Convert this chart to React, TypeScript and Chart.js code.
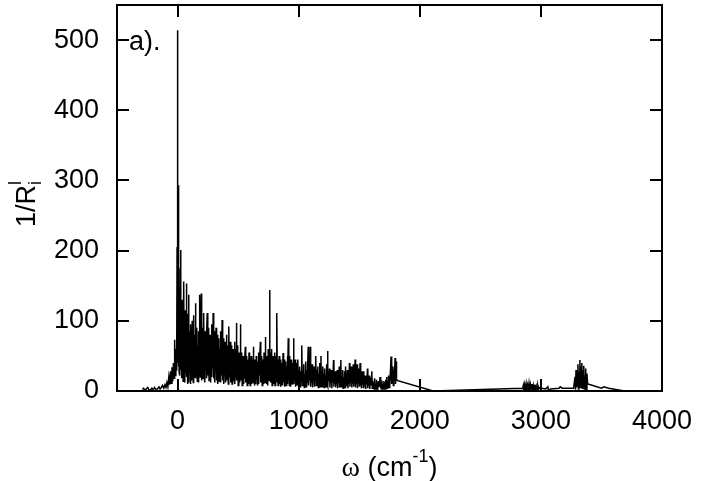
import React, { useEffect, useRef } from "react";
import { Chart, registerables } from "chart.js";

Chart.register(...registerables);

type P = [number, number];

const xTicks = [0, 1000, 2000, 3000, 4000];
const yTicks = [0, 100, 200, 300, 400, 500];
const xMin = -500;
const xMax = 4000;
const yMin = 0;
const yMax = 550;
const panelLabel = "a).";
const xTitleParts = ["ω", " (cm", "-1", ")"];
const yTitleParts = ["1/R", "i", "l"];

const negTail: P[] = [
  [-290, 2], [-280, 4], [-270, 1], [-258, 3], [-246, 5], [-236, 2], [-224, 1], [-212, 4], [-200, 2],
  [-190, 5], [-178, 2], [-166, 3], [-154, 6], [-144, 3], [-134, 5], [-124, 8], [-114, 4], [-104, 9],
  [-96, 5], [-88, 12], [-80, 6], [-72, 20], [-65, 9], [-58, 28], [-52, 11], [-46, 34], [-40, 14],
  [-34, 40], [-28, 18], [-24, 73], [-19, 22], [-14, 60], [-10, 30], [-7, 45],
];

const coreBand: P[] = [
  [-4, 205], [-2, 40], [1, 514], [3, 60], [5, 293], [7, 35], [10, 150], [13, 28], [16, 120], [19, 22],
  [22, 175], [25, 201], [28, 30], [31, 95], [34, 18], [37, 130], [40, 25], [43, 105], [46, 14], [49, 140],
  [52, 156], [55, 30], [58, 80], [61, 12], [64, 115], [67, 25], [70, 95], [73, 153], [76, 20], [79, 70],
  [82, 10], [85, 110], [88, 28], [91, 137], [94, 12], [97, 85], [100, 30], [103, 60], [106, 10], [109, 95],
  [112, 22], [115, 70], [118, 15], [121, 100], [124, 32], [127, 65], [130, 12], [133, 108], [136, 20],
  [139, 80], [142, 28], [145, 60], [148, 125], [151, 18],
];

const bandB: P[] = [
  [154, 75], [157, 25], [160, 90], [163, 14], [166, 65], [169, 30], [172, 85], [175, 12], [178, 70],
  [181, 35], [184, 137], [187, 20], [190, 80], [193, 28], [196, 139], [199, 15], [202, 70], [205, 32],
  [208, 90], [211, 18], [214, 60], [217, 111], [220, 25], [223, 75], [226, 12], [229, 85], [232, 30],
  [235, 65], [238, 18], [241, 80], [245, 111], [248, 22], [251, 70], [254, 35], [257, 90], [260, 15],
  [263, 65], [266, 28], [269, 80], [272, 12], [275, 70], [278, 30], [281, 95], [284, 20], [287, 60],
  [290, 32], [294, 111], [297, 18], [300, 70],
];

const bandC: P[] = [
  [303, 25], [306, 85], [309, 12], [312, 60], [315, 30], [318, 90], [321, 15], [324, 65], [327, 25],
  [330, 80], [333, 10], [336, 55], [339, 28], [342, 75], [345, 14], [348, 60], [351, 30], [354, 85],
  [357, 12], [360, 55], [364, 22], [368, 101], [371, 15], [374, 60], [377, 30], [380, 75], [383, 10],
  [386, 50], [389, 25], [392, 70], [395, 12], [398, 55], [401, 28], [404, 80], [407, 15], [410, 50],
  [413, 22], [416, 65], [419, 10], [423, 92], [426, 20], [429, 55], [432, 30], [435, 70], [438, 12],
  [441, 50], [444, 25], [447, 65], [450, 10], [453, 45], [456, 22], [459, 60], [462, 14], [465, 50],
  [468, 28], [471, 70], [474, 10], [477, 45], [480, 20], [483, 60], [486, 97], [489, 15], [492, 50],
  [495, 25], [498, 65], [501, 8], [504, 45], [507, 20], [510, 55], [513, 12], [516, 40], [519, 95],
  [522, 15],
];

const bandD: P[] = [
  [525, 45], [528, 20], [531, 55], [534, 8], [537, 40], [540, 22], [543, 50], [546, 10], [549, 35],
  [552, 18], [556, 45], [560, 63], [563, 12], [566, 40], [569, 20], [572, 50], [575, 8], [578, 35],
  [581, 18], [584, 45], [587, 10], [590, 55], [593, 22], [596, 38], [599, 8], [602, 42], [605, 18],
  [608, 50], [611, 10], [614, 35], [617, 20], [620, 45], [623, 12], [626, 63], [629, 15], [632, 40],
  [635, 8], [638, 45], [641, 20], [644, 35], [647, 10], [650, 50], [653, 18], [656, 38], [659, 8],
  [662, 42], [665, 20], [668, 55], [671, 10], [674, 38], [677, 22], [680, 48], [684, 70], [687, 12],
  [690, 40], [693, 20], [696, 50], [699, 8], [702, 35], [705, 18], [708, 45], [711, 10], [714, 55],
  [717, 20], [720, 40], [723, 12], [725, 77], [728, 25], [731, 45], [734, 10], [737, 50], [740, 18],
  [743, 35], [746, 8], [749, 60], [752, 22], [755, 45], [758, 15], [760, 144], [763, 20],
];

const bandE: P[] = [
  [766, 55], [769, 12], [772, 40], [775, 25], [778, 60], [781, 8], [784, 45], [787, 20], [790, 50],
  [793, 10], [796, 35], [799, 18], [802, 55], [805, 8], [808, 40], [811, 22], [814, 50], [817, 12],
  [821, 111], [824, 15], [827, 45], [830, 8], [833, 38], [836, 20], [839, 50], [842, 10], [845, 35],
  [848, 18], [851, 45], [854, 6], [857, 30], [860, 15], [863, 40], [866, 8], [871, 54], [874, 12],
  [877, 35], [880, 20], [883, 45], [886, 6], [889, 30], [892, 15], [895, 42], [898, 8], [901, 35],
  [904, 18], [907, 50], [910, 10], [914, 75], [917, 15], [920, 40], [923, 8], [926, 50], [929, 20],
  [932, 35], [935, 6], [938, 45], [941, 15], [944, 30], [947, 10], [950, 40], [954, 22], [958, 75],
  [961, 10], [964, 35], [967, 18], [970, 45], [973, 6], [976, 30], [979, 15], [982, 40], [985, 8],
  [988, 32], [991, 18], [994, 45], [997, 8], [1000, 30],
];

const bandF: P[] = [
  [1004, 12], [1008, 35], [1012, 6], [1016, 28], [1020, 14], [1024, 40], [1027, 65], [1030, 8],
  [1034, 30], [1038, 12], [1042, 38], [1046, 5], [1050, 25], [1054, 15], [1058, 42], [1062, 6],
  [1066, 30], [1070, 12], [1074, 35], [1079, 63], [1082, 8], [1086, 28], [1090, 15], [1096, 63],
  [1099, 6], [1103, 30], [1107, 12], [1111, 38], [1115, 5], [1119, 25], [1123, 14], [1127, 35],
  [1131, 6], [1135, 28], [1139, 15], [1142, 50], [1146, 8], [1150, 30], [1154, 12], [1158, 35],
  [1162, 5], [1166, 25], [1170, 14], [1174, 40], [1178, 6], [1184, 50], [1187, 10], [1191, 28],
  [1195, 6], [1199, 35], [1203, 12], [1207, 25], [1211, 5], [1215, 32], [1219, 15], [1223, 22],
  [1227, 6], [1231, 38], [1235, 12], [1238, 57], [1242, 8], [1246, 28], [1250, 14], [1254, 32],
  [1258, 5], [1262, 22], [1266, 12], [1270, 30], [1274, 4], [1278, 25], [1282, 12], [1288, 44],
  [1291, 6], [1295, 22], [1299, 10],
];

const bandG: P[] = [
  [1303, 28], [1307, 5], [1311, 20], [1315, 10], [1319, 30], [1323, 4], [1327, 22], [1331, 12],
  [1335, 35], [1339, 5], [1343, 25], [1348, 44], [1351, 6], [1355, 22], [1359, 10], [1363, 30],
  [1367, 4], [1371, 20], [1375, 12], [1379, 28], [1383, 5], [1387, 35], [1391, 8], [1395, 22],
  [1399, 12], [1403, 30], [1407, 4], [1411, 25], [1415, 10], [1419, 40], [1423, 6], [1427, 25],
  [1431, 12], [1435, 35], [1439, 5], [1443, 28], [1447, 10], [1451, 38], [1455, 6], [1459, 22],
  [1462, 12], [1466, 45], [1470, 5], [1474, 30], [1478, 10], [1482, 38], [1486, 4], [1490, 25],
  [1494, 12], [1498, 32], [1502, 6], [1507, 40], [1510, 8], [1514, 22], [1518, 5], [1522, 28],
  [1526, 10], [1530, 18], [1535, 28], [1538, 4], [1542, 15], [1546, 8], [1550, 22], [1554, 3],
  [1558, 18], [1562, 10], [1568, 32], [1571, 4], [1575, 15], [1579, 8], [1583, 22], [1587, 3],
  [1591, 14], [1595, 8], [1599, 18], [1604, 28], [1607, 4],
];

const bandH: P[] = [
  [1611, 15], [1615, 6], [1619, 12], [1623, 3], [1627, 18], [1631, 6], [1635, 10], [1639, 3],
  [1643, 16], [1647, 5], [1651, 12], [1655, 3], [1659, 14], [1663, 6], [1667, 10], [1672, 20],
  [1675, 4], [1679, 12], [1683, 3], [1687, 15], [1691, 5], [1695, 10], [1699, 3], [1703, 14],
  [1707, 6], [1711, 12], [1715, 3], [1719, 16], [1723, 6], [1727, 20], [1730, 4], [1734, 14],
  [1738, 8], [1742, 22], [1746, 5], [1750, 18], [1754, 8], [1758, 30], [1763, 49], [1766, 10],
  [1770, 38], [1774, 12], [1778, 35], [1782, 8], [1786, 30], [1790, 15], [1796, 47], [1800, 10],
  [1804, 42], [1808, 18],
];

const gapTail: P[] = [[1812, 15], [2110, 0], [2850, 4]];

const chBand: P[] = [
  [2855, 8], [2860, 1], [2866, 9], [2872, 2], [2878, 10], [2884, 0], [2890, 8], [2896, 2], [2902, 11],
  [2908, 1], [2914, 9], [2920, 3], [2926, 10], [2932, 1], [2938, 8], [2944, 2], [2950, 9], [2956, 3],
  [2962, 7], [2968, 2], [2975, 8], [2982, 3], [2990, 5], [3010, 4], [3040, 3], [3058, 6], [3062, 0],
  [3080, 3], [3150, 4], [3160, 6], [3175, 4], [3270, 4],
];

const ohBand: P[] = [
  [3282, 20], [3286, 2], [3290, 30], [3294, 5], [3298, 25], [3302, 8], [3306, 38], [3310, 3],
  [3314, 28], [3318, 10], [3322, 44], [3326, 5], [3330, 35], [3334, 12], [3338, 40], [3342, 4],
  [3346, 30], [3350, 8], [3354, 36], [3358, 3], [3362, 22], [3366, 6], [3370, 32], [3374, 2],
  [3380, 25], [3386, 10], [3390, 10], [3500, 4], [3520, 6], [3560, 4], [3690, 0],
];

const spectrum: P[] = [
  ...negTail, ...coreBand, ...bandB, ...bandC, ...bandD, ...bandE, ...bandF, ...bandG, ...bandH,
  ...gapTail, ...chBand, ...ohBand,
];

const SANS = '"Liberation Sans", Arial, sans-serif';
const SERIF = '"Liberation Serif", "Times New Roman", serif';
const FONT_PX = 27;

const decor = {
  id: "decor",
  afterDraw(chart: any) {
    const { ctx, chartArea: a, scales } = chart;
    const xs = scales.x;
    const ys = scales.y;
    ctx.save();
    ctx.strokeStyle = "#000";
    ctx.lineWidth = 2;
    ctx.strokeRect(a.left, a.top, a.right - a.left, a.bottom - a.top);
    ctx.beginPath();
    for (const v of xTicks) {
      const p = Math.round(xs.getPixelForValue(v));
      ctx.moveTo(p, a.bottom);
      ctx.lineTo(p, a.bottom - 12);
      ctx.moveTo(p, a.top);
      ctx.lineTo(p, a.top + 12);
    }
    for (const v of yTicks) {
      const p = Math.round(ys.getPixelForValue(v));
      ctx.moveTo(a.left, p);
      ctx.lineTo(a.left + 12, p);
      ctx.moveTo(a.right, p);
      ctx.lineTo(a.right - 12, p);
    }
    ctx.stroke();

    ctx.fillStyle = "#000";
    ctx.textBaseline = "alphabetic";
    ctx.textAlign = "left";
    const big = `${FONT_PX}px ${SANS}`;
    const small = `18px ${SANS}`;
    ctx.font = big;
    ctx.fillText(panelLabel, a.left + 12, 50);

    // x title
    const omegaFont = `28px ${SERIF}`;
    ctx.font = omegaFont;
    const w0 = ctx.measureText(xTitleParts[0]).width;
    ctx.font = big;
    const w1 = ctx.measureText(xTitleParts[1]).width;
    const w3 = ctx.measureText(xTitleParts[3]).width;
    ctx.font = small;
    const w2 = ctx.measureText(xTitleParts[2]).width;
    const total = w0 + w1 + w2 + w3;
    let x = (a.left + a.right) / 2 - total / 2;
    const base = 476;
    ctx.font = omegaFont;
    ctx.fillText(xTitleParts[0], x, base);
    x += w0;
    ctx.font = big;
    ctx.fillText(xTitleParts[1], x, base);
    x += w1;
    ctx.font = small;
    ctx.fillText(xTitleParts[2], x, base - 14);
    x += w2;
    ctx.font = big;
    ctx.fillText(xTitleParts[3], x, base);

    // y title (rotated)
    ctx.font = big;
    const yw0 = ctx.measureText(yTitleParts[0]).width;
    ctx.font = small;
    const yw1 = Math.max(ctx.measureText(yTitleParts[1]).width, ctx.measureText(yTitleParts[2]).width);
    const ytot = yw0 + yw1;
    const cy = (a.top + a.bottom) / 2 + 6;
    ctx.translate(35, cy + ytot / 2);
    ctx.rotate(-Math.PI / 2);
    ctx.font = big;
    ctx.fillText(yTitleParts[0], 0, 0);
    ctx.font = small;
    ctx.fillText(yTitleParts[1], yw0, 6);
    ctx.fillText(yTitleParts[2], yw0, -14);
    ctx.restore();
  },
};

export default function App() {
  const ref = useRef<HTMLCanvasElement>(null);
  useEffect(() => {
    if (!ref.current) return;
    const chart = new Chart(ref.current, {
      type: "line",
      data: {
        datasets: [
          {
            data: spectrum.map(([x, y]) => ({ x, y })),
            borderColor: "#000",
            borderWidth: 1.5,
            pointRadius: 0,
            tension: 0,
            fill: false,
          },
        ],
      },
      options: {
        responsive: false,
        animation: false,
        parsing: false as any,
        layout: { padding: { top: 5, right: 58, left: 0, bottom: 0 } },
        plugins: { legend: { display: false }, tooltip: { enabled: false } },
        scales: {
          x: {
            type: "linear",
            min: xMin,
            max: xMax,
            grid: { display: false, drawTicks: false },
            border: { display: false },
            afterBuildTicks: (s: any) => {
              s.ticks = xTicks.map((v) => ({ value: v }));
            },
            afterFit: (s: any) => {
              s.height = 90;
              s.paddingLeft = 0;
              s.paddingRight = 0;
              s.paddingTop = 0;
              s.paddingBottom = 0;
            },
            ticks: {
              autoSkip: false,
              maxRotation: 0,
              padding: 14,
              color: "#000",
              font: { family: SANS, size: FONT_PX },
              callback: (v: any) => String(v),
            },
          },
          y: {
            type: "linear",
            min: yMin,
            max: yMax,
            grid: { display: false, drawTicks: false },
            border: { display: false },
            afterBuildTicks: (s: any) => {
              s.ticks = yTicks.map((v) => ({ value: v }));
            },
            afterFit: (s: any) => {
              s.width = 117;
              s.paddingLeft = 0;
              s.paddingRight = 0;
              s.paddingTop = 0;
              s.paddingBottom = 0;
            },
            ticks: {
              autoSkip: false,
              padding: 18,
              color: "#000",
              font: { family: SANS, size: FONT_PX },
              callback: (v: any) => String(v),
            },
          },
        },
      },
      plugins: [decor],
    });
    return () => chart.destroy();
  }, []);
  return (
    <canvas
      ref={ref}
      width={720}
      height={481}
      style={{ position: "absolute", left: 0, top: 0, display: "block" }}
    />
  );
}
